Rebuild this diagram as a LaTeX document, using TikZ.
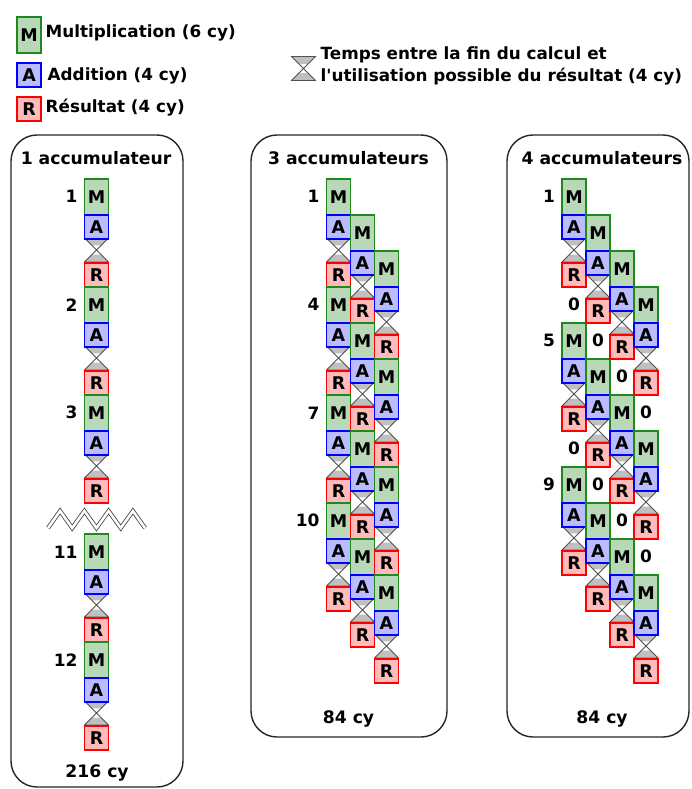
\documentclass[tikz,border=0pt]{standalone}
\usepackage{fontspec}
\setmainfont{DejaVu Sans}
\definecolor{mfill}{HTML}{B8D8B8}
\definecolor{mdraw}{HTML}{1E8A1E}
\definecolor{afill}{HTML}{BBBBFF}
\definecolor{adraw}{HTML}{0000FF}
\definecolor{rfill}{HTML}{FFBBBB}
\definecolor{rdraw}{HTML}{FF0000}
\definecolor{hgfill}{HTML}{C0C0C0}
\definecolor{hgdraw}{HTML}{505050}
\tikzset{
  opbox/.style={line width=1.6pt, minimum width=24pt, inner sep=0pt, anchor=north,
    font=\bfseries\fontsize{17.5}{18}\selectfont},
  mbox/.style={opbox, draw=mdraw, fill=mfill, minimum height=36pt},
  abox/.style={opbox, draw=adraw, fill=afill, minimum height=24pt},
  rbox/.style={opbox, draw=rdraw, fill=rfill, minimum height=24pt},
  lbl/.style={inner sep=0pt, font=\bfseries\fontsize{17}{17}\selectfont},
  txt/.style={inner sep=0pt, font=\bfseries\fontsize{16.8}{17}\selectfont},
  ttl/.style={inner sep=0pt, font=\bfseries\fontsize{17.2}{17}\selectfont},
  panel/.style={draw=black!85, line width=1.4pt, rounded corners=26pt},
  hgline/.style={draw=hgdraw, line width=0.8pt, line join=miter},
  zig/.style={draw=black!75, line width=0.8pt, double=white, double distance=2.6pt}
}
\newcommand{\hglass}[2]{%
  \fill[hgfill] (#1-12,#2) -- (#1+12,#2) -- (#1+4.6,#2+7.4) -- (#1-4.6,#2+7.4) -- cycle;
  \fill[hgfill] (#1-12,#2+24) -- (#1+12,#2+24) -- (#1+4.6,#2+16.6) -- (#1-4.6,#2+16.6) -- cycle;
  \draw[hgline] (#1-12,#2) -- (#1+12,#2) -- (#1-12,#2+24) -- (#1+12,#2+24) -- cycle;
}
\newcommand{\onecalc}[3]{%
  \node[mbox] (#3m) at (#1,#2) {M};
  \hglass{#1}{#2+60}
  \node[abox] (#3a) at (#1,#2+36) {A};
  \node[rbox] (#3r) at (#1,#2+84) {R};
}
\begin{document}
\begin{tikzpicture}[x=1pt,y=-1pt]
\useasboundingbox (0,0) rectangle (691,789);
\fill[white] (0,0) rectangle (691,789);

% legend
\node[mbox] (lm) at (29.2,16) {M};
\node[abox] (la) at (29.2,62) {A};
\node[rbox] (lr) at (29.2,96.5) {R};
\node[txt,anchor=west] (tm) at (45.5,33) {Multiplication (6 cy)};
\node[txt,anchor=west] (ta) at (47.5,76) {Addition (4 cy)};
\node[txt,anchor=west] (tr) at (45.5,108) {Résultat (4 cy)};
\hglass{303.5}{56.5}
\node[txt,anchor=west] (tt1) at (320.5,55) {Temps entre la fin du calcul et};
\node[txt,anchor=west] (tt2) at (320.5,77) {l\textquotesingle utilisation possible du résultat (4 cy)};

% panels
\draw[panel] (11,135) rectangle (183,787);
\draw[panel] (251,135) rectangle (447,737);
\draw[panel] (507,135) rectangle (689,737);
\node[ttl] (p1) at (96,158) {1 accumulateur};
\node[ttl] (p2) at (348.5,158) {3 accumulateurs};
\node[ttl] (p3) at (602,158) {4 accumulateurs};
\node[ttl] (s1) at (97,773) {216 cy};
\node[ttl] (s2) at (348.5,719) {84 cy};
\node[ttl] (s3) at (602,719) {84 cy};

% column 1
\onecalc{96.5}{178}{a1}
\onecalc{96.5}{286}{a2}
\onecalc{96.5}{394}{a3}
\onecalc{96.5}{533}{a11}
\onecalc{96.5}{641}{a12}
\foreach \n in {1,2,3,11,12}{
  \node[lbl,anchor=east] (al\n) at ([xshift=-6pt]a\n m.west) {\n};
}
\draw[zig] (48,528) -- (60.1,511) -- (72.2,528) -- (84.4,511) -- (96.5,528)
  -- (108.6,511) -- (120.8,528) -- (132.9,511) -- (145,528);

% column 2
\foreach \c in {0,1,2}{
  \foreach \k in {0,1,2,3}{
    \pgfmathsetmacro\xx{338.5+24*\c}
    \pgfmathsetmacro\yy{178+36*\c+108*\k}
    \onecalc{\xx}{\yy}{b\c\k}
  }
}
\foreach \k in {0,1,2,3}{
  \pgfmathtruncatemacro\lab{3*\k+1}
  \node[lbl,anchor=east] (bl\k) at ([xshift=-6pt]b0\k m.west) {\lab};
}

% column 3
\foreach \c in {0,1,2,3}{
  \foreach \k in {0,1,2}{
    \pgfmathsetmacro\xx{574+24*\c}
    \pgfmathsetmacro\yy{178+36*\c+144*\k}
    \onecalc{\xx}{\yy}{c\c\k}
  }
  \foreach \k in {0,1}{
    \pgfmathsetmacro\xx{574+24*\c}
    \pgfmathsetmacro\yy{178+36*\c+144*\k+126}
    \node[lbl] (z\c\k) at (\xx,\yy) {0};
  }
}
\foreach \k in {0,1,2}{
  \pgfmathtruncatemacro\lab{4*\k+1}
  \node[lbl,anchor=east] (cl\k) at ([xshift=-6pt]c0\k m.west) {\lab};
}
\end{tikzpicture}
\end{document}
